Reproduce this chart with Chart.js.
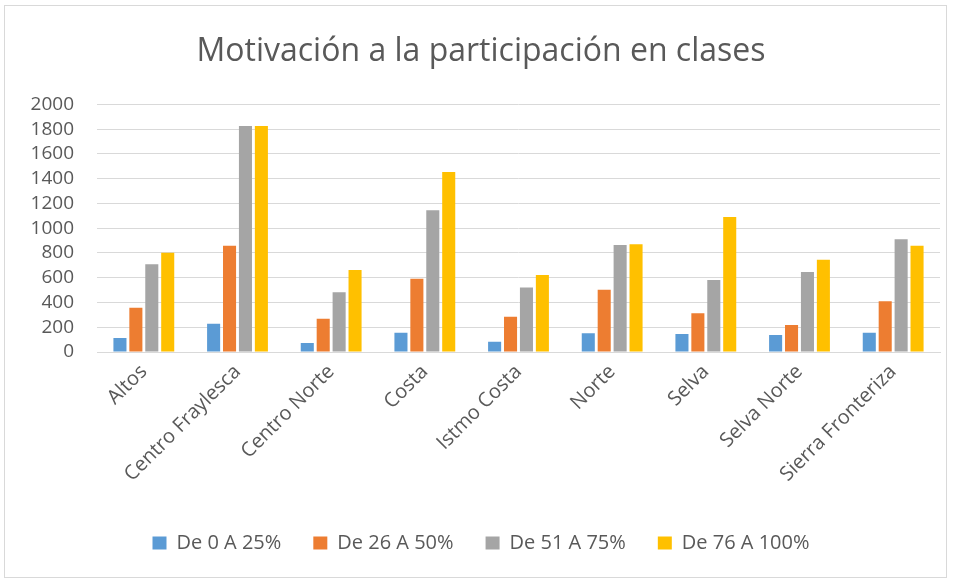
<!DOCTYPE html>
<html>
<head>
<meta charset="utf-8">
<script src="https://cdn.jsdelivr.net/npm/chart.js@4/dist/chart.umd.min.js"></script>
<style>
html,body{margin:0;padding:0;background:#fff;}
#wrap{position:absolute;left:0;top:0;width:956px;height:579px;}
</style>
</head>
<body>
<div id="wrap"><canvas id="c" width="956" height="579"></canvas></div>
<script>
const categories = ["Altos","Centro Fraylesca","Centro Norte","Costa","Istmo Costa","Norte","Selva","Selva Norte","Sierra Fronteriza"];
const seriesNames = ["De 0 A 25%","De 26 A 50%","De 51 A 75%","De 76 A 100%"];
const de0a25   = [113, 229, 73, 156, 83, 151, 145, 137, 156];
const de26a50  = [358, 859, 269, 592, 285, 503, 312, 218, 409];
const de51a75  = [708, 1825, 482, 1144, 520, 864, 581, 646, 910];
const de76a100 = [802, 1825, 662, 1454, 622, 870, 1090, 746, 859];
const yTicks = [0,200,400,600,800,1000,1200,1400,1600,1800,2000];
const colors = ["#5B9BD5","#ED7D31","#A5A5A5","#FFC000"];

const FONT = "'Open Sans', sans-serif";
const TXT = "#595959";

const borderPlugin = {
  id:'outerBorder',
  beforeDraw(chart){
    const ctx = chart.ctx;
    ctx.save();
    ctx.fillStyle = '#fff';
    ctx.fillRect(0,0,chart.width,chart.height);
    ctx.strokeStyle = '#D9D9D9';
    ctx.lineWidth = 1;
    ctx.strokeRect(4.5,5.5,942,572);
    ctx.restore();
  }
};

const data = [de0a25, de26a50, de51a75, de76a100];
new Chart(document.getElementById('c'), {
  type:'bar',
  data:{
    labels:categories,
    datasets: seriesNames.map((n,i)=>({
      label:n,
      data:data[i],
      backgroundColor:colors[i],
      borderWidth:0,
      categoryPercentage:0.68,
      barPercentage:0.82
    }))
  },
  plugins:[borderPlugin],
  options:{
    responsive:false,
    animation:false,
    devicePixelRatio:1,
    layout:{padding:{left:22,right:16,top:28,bottom:16}},
    plugins:{
      title:{
        display:true,
        text:"Motivación a la participación en clases",
        color:TXT,
        font:{family:FONT,size:32,weight:'normal'},
        padding:{top:5,bottom:33}
      },
      legend:{
        position:'bottom',
        labels:{
          color:TXT,
          font:{family:FONT,size:20},
          boxWidth:14,boxHeight:13,
          padding:32
        }
      },
      tooltip:{enabled:false}
    },
    scales:{
      x:{
        grid:{display:false},
        border:{display:true,color:'#D9D9D9'},
        afterFit(axis){ axis.height = 149; },
        ticks:{
          color:TXT,
          font:{family:FONT,size:20},
          maxRotation:45,minRotation:45,
          autoSkip:false,
          padding:0
        }
      },
      y:{
        min:0,max:2000,
        afterBuildTicks(axis){ axis.ticks = yTicks.map(v=>({value:v})); },
        afterFit(axis){ axis.width = 75; },
        grid:{color:'#D9D9D9',lineWidth:1,drawTicks:false},
        border:{display:false},
        ticks:{
          color:TXT,
          font:{family:FONT,size:19,lineHeight:1},
          autoSkip:false,
          padding:23,
          callback:(v)=>String(v)
        }
      }
    }
  }
});
</script>
</body>
</html>
